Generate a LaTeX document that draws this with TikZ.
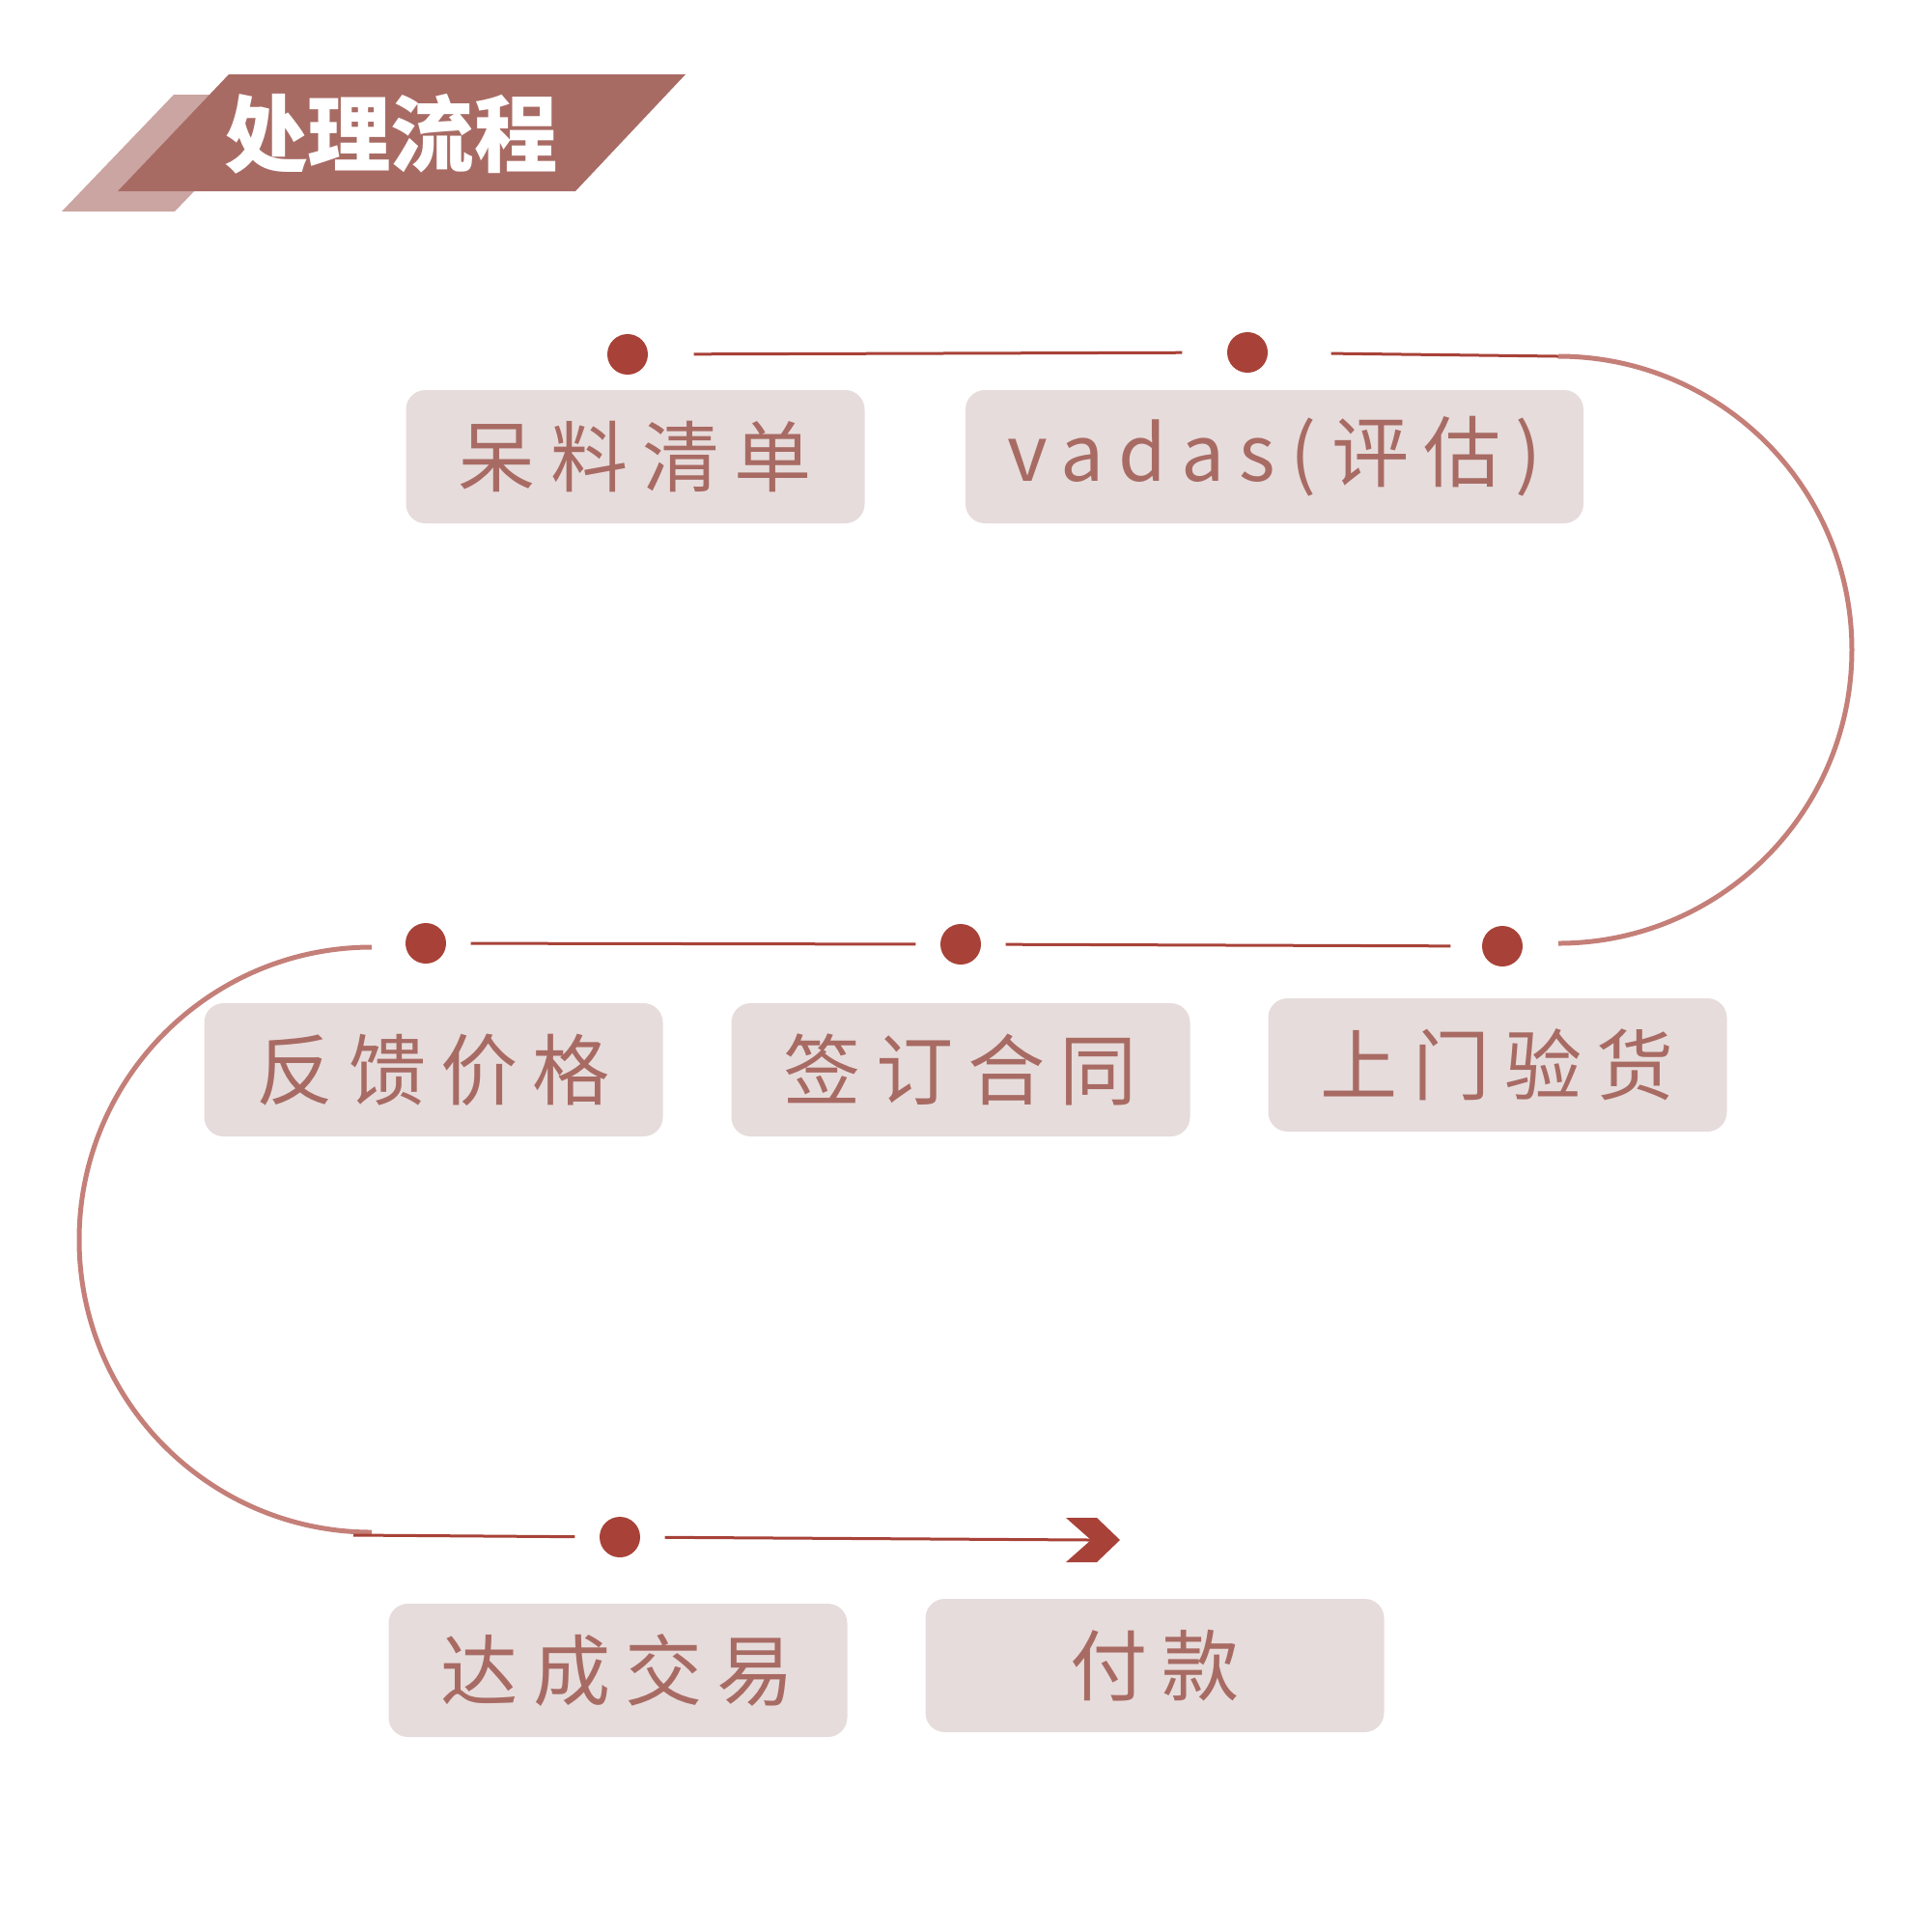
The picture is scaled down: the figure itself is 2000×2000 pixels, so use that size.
\documentclass[tikz,border=0pt]{standalone}
\usepackage{fontspec}
\newfontfamily\stepfont[LetterSpace=19]{Noto Sans CJK SC}
\newfontfamily\headfont{Noto Sans CJK SC}
\definecolor{bannerdark}{HTML}{A86B64}
\definecolor{bannerlight}{HTML}{CBA5A1}
\definecolor{boxfill}{HTML}{E6DCDB}
\definecolor{steptext}{HTML}{A86B64}
\definecolor{dotred}{HTML}{A84238}
\definecolor{bendline}{HTML}{C47F78}
\tikzset{
  stepbox/.style={fill=boxfill, rounded corners=2mm, minimum width=47.5mm, minimum height=13.8mm,
    inner sep=0pt, text=steptext, font=\stepfont\fontsize{22.8pt}{27pt}\selectfont},
  dot/.style={circle, fill=dotred, minimum size=4.2mm, inner sep=0pt},
  link/.style={draw=dotred, line width=0.3mm},
  turnline/.style={draw=bendline, line width=0.5mm}
}
\begin{document}
\begin{tikzpicture}[x=0.1mm,y=-0.1mm]
\useasboundingbox[fill=white] (0,0) rectangle (2000,2000);
% title banner
\fill[bannerlight] (64,219) -- (180,98) -- (297,98) -- (181,219) -- cycle;
\fill[bannerdark] (122,198) -- (237,77) -- (710,77) -- (596,198) -- cycle;
\node[text=white, font=\headfont\bfseries\fontsize{24.6pt}{30pt}\selectfont] (title) at (405,139) {处理流程};

% steps
\node[stepbox] (b1) at (658,473) {呆料清单};
\node[stepbox, minimum width=64mm] (b2) at (1320,473) {vadas(评估)};
\node[stepbox] (b3) at (449,1108) {反馈价格};
\node[stepbox] (b4) at (995,1108) {签订合同};
\node[stepbox] (b5) at (1551,1103) {上门验货};
\node[stepbox] (b6) at (640,1730) {达成交易};
\node[stepbox] (b7) at (1196,1725) {付款};

% dots
\node[dot] (d1) at (650,367) {};
\node[dot] (d2) at (1292,365) {};
\node[dot] (d3) at (441,977) {};
\node[dot] (d4) at (995,978) {};
\node[dot] (d5) at (1556,980) {};
\node[dot] (d6) at (642,1592) {};

\coordinate (r1) at (1614,369);
\coordinate (l1) at (385,981);
\coordinate (s0) at (366,1590);
\coordinate (tip) at (1130,1595);

% connectors
\draw[link, shorten <=4.7mm, shorten >=4.6mm] (d1) -- (d2);
\draw[link, shorten <=6.5mm] (d2) -- (r1);
\draw[turnline] (r1) arc[start angle=-90, end angle=90, radius=304];
\draw[link, shorten <=2.5mm, shorten >=2.5mm] (d3) -- (d4);
\draw[link, shorten <=2.5mm, shorten >=3.2mm] (d4) -- (d5);
\draw[turnline] (l1) arc[start angle=270, end angle=90, radius=303];
\draw[link, shorten >=2.5mm] (s0) -- (d6);
\draw[link, shorten <=2.5mm] (d6) -- (tip);
\fill[dotred] (tip) ++(-26,-23) -- ++(32,0) -- ++(24,23) -- ++(-24,23) -- ++(-32,0) -- ++(26,-23) -- cycle;
\end{tikzpicture}
\end{document}
